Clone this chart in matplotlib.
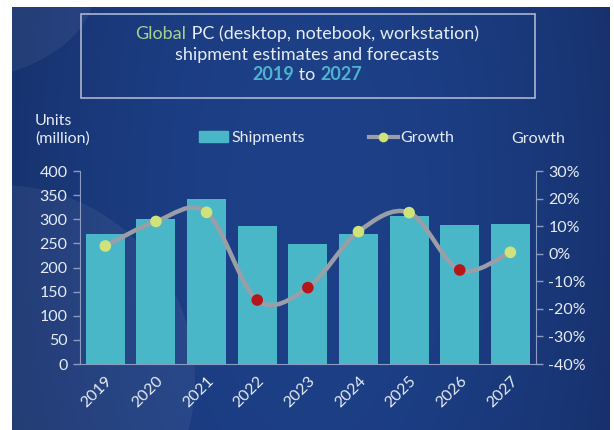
import matplotlib.pyplot as plt
import numpy as np
from matplotlib.lines import Line2D
from matplotlib.patches import Circle, Ellipse, PathPatch, Rectangle
from matplotlib.path import Path

years = ["2019", "2020", "2021", "2022", "2023", "2024", "2025", "2026", "2027"]
shipments = [269, 300, 342, 286, 249, 269, 307, 288, 290]
growth = [2.8, 11.7, 15.0, -16.8, -12.3, 8.0, 14.9, -5.9, 0.5]

units_ticks = [0, 50, 100, 150, 200, 250, 300, 350, 400]
growth_ticks = [-40, -30, -20, -10, 0, 10, 20, 30]

BAR = "#4ab7c9"
TEXT = "#e6ecf4"
POS = "#cfe37a"
NEG = "#b5161a"
LINE = "#9a9ea6"
AXIS = "#8c9cc0"

plt.rcParams["font.family"] = ["Lato", "DejaVu Sans"]


def smooth_path(xs, ys):
    # Catmull-Rom style Bezier segments through every point
    xs = np.asarray(xs, float)
    ys = np.asarray(ys, float)
    n = len(xs)
    verts = [(xs[0], ys[0])]
    codes = [Path.MOVETO]
    for i in range(n - 1):
        p0 = max(i - 1, 0)
        p3 = min(i + 2, n - 1)
        c1 = (xs[i] + (xs[i + 1] - xs[p0]) / 6, ys[i] + (ys[i + 1] - ys[p0]) / 6)
        c2 = (xs[i + 1] - (xs[p3] - xs[i]) / 6, ys[i + 1] - (ys[p3] - ys[i]) / 6)
        verts += [c1, c2, (xs[i + 1], ys[i + 1])]
        codes += [Path.CURVE4] * 3
    return Path(verts, codes)


fig = plt.figure(figsize=(6.14, 4.30), dpi=100)
fig.patch.set_facecolor("white")
renderer = fig.canvas.get_renderer()
W = fig.bbox.width

# backdrop panel with a soft horizontal gradient
bg = fig.add_axes([12 / 614, 0, 598 / 614, 423 / 430])
bg.set_xlim(0, 598)
bg.set_ylim(423, 0)
bg.axis("off")
gx = np.linspace(-1, 1, 300)
gy = np.linspace(0, 1, 200)
X, Y = np.meshgrid(gx, gy)
light = 1 - 0.55 * X ** 2 - 0.25 * (Y - 0.45) ** 2
c_dark = np.array([0x13, 0x28, 0x5c]) / 255
c_light = np.array([0x1d, 0x40, 0x88]) / 255
img = c_dark + (c_light - c_dark) * np.clip(light, 0, 1)[..., None]
bg.imshow(img, extent=[0, 598, 423, 0], aspect="auto", zorder=0)
bg.add_patch(Circle((-12, 373), 195, color="white", alpha=0.06, lw=0, zorder=1))
bg.add_patch(Ellipse((-10, 10), 190, 110, angle=-20, color="white", alpha=0.06, lw=0, zorder=1))

# title box
bg.add_patch(Rectangle((69, 7), 454, 84, fill=False, ec="#aab6cc", lw=1.2, zorder=2))

title_fs = 13
title_y = [1 - 39 / 430, 1 - 60 / 430, 1 - 80 / 430]

# first line: "Global" in green, rest in white, centred as one string
full = fig.text(0.5, title_y[0], "Global PC (desktop, notebook, workstation)",
                ha="center", va="baseline", fontsize=title_fs)
x0 = full.get_window_extent(renderer).x0 / W
full.remove()
t_global = fig.text(x0, title_y[0], "Global", ha="left", va="baseline",
                    fontsize=title_fs, color="#a9d18e")
gb = t_global.get_window_extent(renderer)
fig.text(gb.x1 / W, title_y[0], " PC (desktop, notebook, workstation)",
         ha="left", va="baseline", fontsize=title_fs, color=TEXT)

fig.text(0.5, title_y[1], "shipment estimates and forecasts",
         ha="center", va="baseline", fontsize=title_fs, color=TEXT)
mid = fig.text(0.5, title_y[2], " to ", ha="center", va="baseline",
               fontsize=title_fs, color=TEXT)
mb = mid.get_window_extent(renderer)
fig.text(mb.x0 / W, title_y[2], "2019", ha="right", va="baseline",
         fontsize=title_fs, color="#4fb3cf", fontweight="bold")
fig.text(mb.x1 / W, title_y[2], "2027", ha="left", va="baseline",
         fontsize=title_fs, color="#4fb3cf", fontweight="bold")

# main chart
ax = fig.add_axes([80 / 614, 1 - 364 / 430, 455.7 / 614, 193 / 430])
ax.set_facecolor("none")
x = np.arange(len(years))
ax.bar(x, shipments, width=0.77, color=BAR, zorder=2)
ax.set_xlim(-0.5, len(years) - 0.5)
ax.set_ylim(0, 400)
ax.set_yticks(units_ticks)
ax.set_xticks(x)
ax.set_xticklabels(years, rotation=45, ha="right", rotation_mode="anchor")
ax.tick_params(axis="x", length=0, pad=7, labelsize=11.5, labelcolor=TEXT)
ax.tick_params(axis="y", length=5, width=1, color=AXIS, labelsize=11.5,
               labelcolor=TEXT, pad=4)
for side in ["top", "right"]:
    ax.spines[side].set_visible(False)
ax.spines["left"].set_color(AXIS)
ax.spines["bottom"].set_color(AXIS)

ax2 = ax.twinx()
ax2.set_ylim(-40, 30)
ax2.set_yticks(growth_ticks)
ax2.set_yticklabels([f"{t}%" for t in growth_ticks])
ax2.tick_params(axis="y", length=5, width=1, color=AXIS, labelsize=11.5,
                labelcolor=TEXT, pad=4)
for side in ["top", "left", "bottom"]:
    ax2.spines[side].set_visible(False)
ax2.spines["right"].set_color(AXIS)

ax2.add_patch(PathPatch(smooth_path(x, growth), fill=False, ec=LINE, lw=3.2,
                        capstyle="round", zorder=3))
colors = [POS if g >= 0 else NEG for g in growth]
ax2.scatter(x, growth, s=70, c=colors, zorder=4, linewidths=0)

# axis captions
fig.text(35 / 614, 1 - 121 / 430, "Units", ha="left", va="center", fontsize=11.5, color=TEXT)
fig.text(35 / 614, 1 - 139 / 430, "(million)", ha="left", va="center", fontsize=11.5, color=TEXT)
fig.text(511 / 614, 1 - 139 / 430, "Growth", ha="left", va="center", fontsize=11.5, color=TEXT)

handles = [
    Rectangle((0, 0), 1, 1, color=BAR),
    Line2D([0], [0], color=LINE, lw=3, marker="o", markersize=7,
           markerfacecolor=POS, markeredgewidth=0),
]
fig.legend(handles, ["Shipments", "Growth"], loc="center",
           bbox_to_anchor=(327 / 614, 1 - 138 / 430), ncol=2, frameon=False,
           fontsize=11.5, handlelength=1.8, handletextpad=0.2,
           columnspacing=4.0, labelcolor=TEXT)

fig.savefig("out.png", dpi=100)
